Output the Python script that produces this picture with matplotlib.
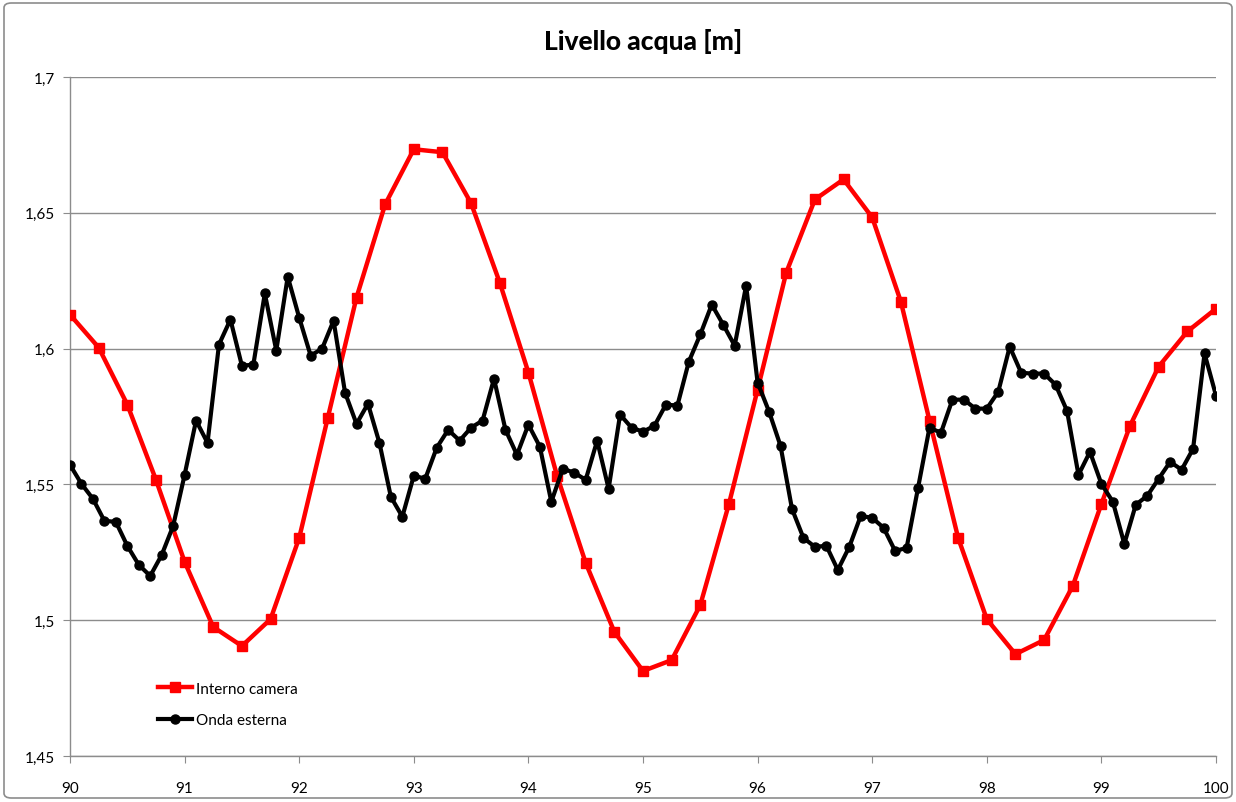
import numpy as np
import matplotlib
matplotlib.use("Agg")
import matplotlib.pyplot as plt
from matplotlib.ticker import FuncFormatter, MultipleLocator
from matplotlib.patches import FancyBboxPatch

# Livello interno camera, campionato ogni 0.25
t_camera = np.arange(41) * 0.25 + 90
interno_camera = [
    1.6125, 1.6004, 1.5794, 1.5517, 1.5215, 1.4975, 1.4905, 1.5004, 1.5303, 1.5746,
    1.6188, 1.6531, 1.6734, 1.6723, 1.6535, 1.6243, 1.5912, 1.5532, 1.5211, 1.4957,
    1.4813, 1.4853, 1.5056, 1.5428, 1.5849, 1.6280, 1.6549, 1.6623, 1.6483, 1.6173,
    1.5735, 1.5303, 1.5004, 1.4875, 1.4927, 1.5126, 1.5428, 1.5716, 1.5934, 1.6063,
    1.6147,
]

# Onda esterna, campionata ogni 0.1
t_onda = np.arange(101) * 0.1 + 90
onda_esterna = [
    1.5572, 1.5502, 1.5447, 1.5366, 1.5362, 1.5274, 1.5204, 1.5163, 1.5240, 1.5347,
    1.5535, 1.5735, 1.5653, 1.6015, 1.6107, 1.5937, 1.5941, 1.6203, 1.5993, 1.6265,
    1.6114, 1.5974, 1.6000, 1.6103, 1.5838, 1.5723, 1.5797, 1.5653, 1.5454, 1.5381,
    1.5532, 1.5521, 1.5635, 1.5701, 1.5661, 1.5709, 1.5735, 1.5889, 1.5701, 1.5609,
    1.5720, 1.5639, 1.5436, 1.5558, 1.5543, 1.5517, 1.5661, 1.5484, 1.5757, 1.5709,
    1.5694, 1.5716, 1.5794, 1.5790, 1.5952, 1.6052, 1.6162, 1.6088, 1.6011, 1.6232,
    1.5875, 1.5768, 1.5642, 1.5410, 1.5303, 1.5270, 1.5274, 1.5185, 1.5270, 1.5384,
    1.5377, 1.5340, 1.5255, 1.5266, 1.5487, 1.5709, 1.5690, 1.5812, 1.5812, 1.5779,
    1.5779, 1.5841, 1.6007, 1.5911, 1.5908, 1.5908, 1.5867, 1.5771, 1.5535, 1.5620,
    1.5502, 1.5436, 1.5281, 1.5425, 1.5458, 1.5521, 1.5583, 1.5554, 1.5631, 1.5982,
    1.5827,
]

plt.rcParams["font.family"] = ["Lato", "DejaVu Sans"]

fig = plt.figure(figsize=(12.36, 8.03), dpi=100)
ax = fig.add_axes([70 / 1236, 1 - 757 / 803, 1146 / 1236, 679 / 803])

# cornice grigia attorno al grafico
fig.patches.append(FancyBboxPatch((4 / 1236, 4 / 803), 1228 / 1236, 795 / 803,
                                  boxstyle="round,pad=0,rounding_size=0.006",
                                  transform=fig.transFigure, fill=False,
                                  edgecolor="#8c8c8c", linewidth=1.2))

ax.plot(t_camera, interno_camera, color="#ff0000", linewidth=3.2,
        marker="s", markersize=7.5, label="Interno camera", zorder=3)
ax.plot(t_onda, onda_esterna, color="black", linewidth=3.0,
        marker="o", markersize=6.5, label="Onda esterna", zorder=4)

ax.set_xlim(90, 100)
ax.set_ylim(1.45, 1.7)
ax.xaxis.set_major_locator(MultipleLocator(1))
ax.yaxis.set_major_locator(MultipleLocator(0.05))
ax.yaxis.set_major_formatter(FuncFormatter(lambda v, p: f"{v:.2f}".rstrip("0").replace(".", ",")))
ax.xaxis.set_major_formatter(FuncFormatter(lambda v, p: f"{v:.0f}"))

ax.grid(axis="y", color="#8c8c8c", linewidth=1.0)
ax.set_axisbelow(True)
for s in ["top", "right"]:
    ax.spines[s].set_visible(False)
for s in ["left", "bottom"]:
    ax.spines[s].set_color("#8c8c8c")
    ax.spines[s].set_linewidth(1.0)
ax.tick_params(axis="x", direction="out", length=5, color="#8c8c8c", labelsize=11, pad=13)
ax.tick_params(axis="y", direction="out", length=5, color="#8c8c8c", labelsize=11, pad=6)

ax.set_title("Livello acqua [m]", fontsize=19, fontweight="black", pad=20)

ax.legend(loc="lower left", bbox_to_anchor=(0.065, 0.022), frameon=False,
          fontsize=11, handlelength=2.2, labelspacing=1.15, handletextpad=0.3)

fig.savefig("out.png", dpi=100)
